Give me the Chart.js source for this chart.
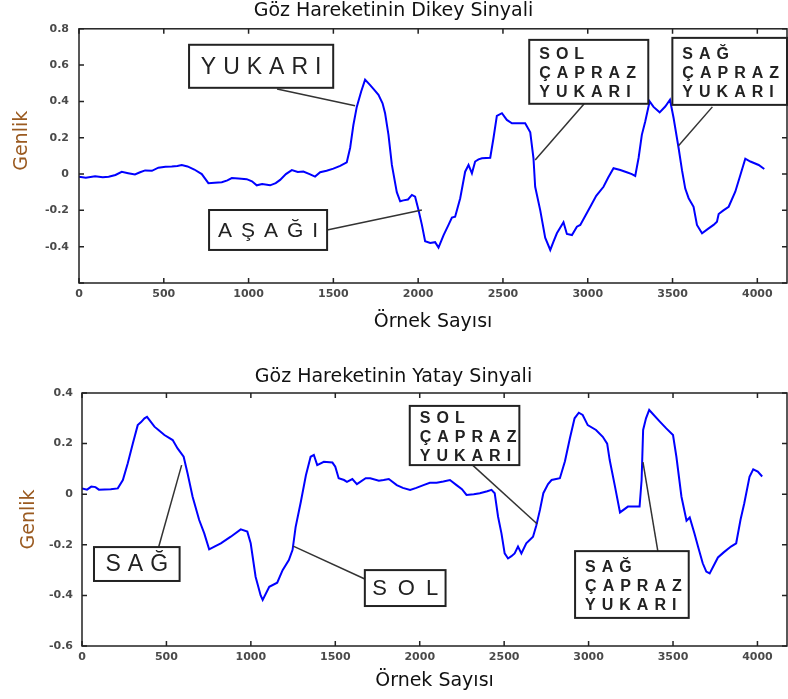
<!DOCTYPE html>
<html>
<head>
<meta charset="utf-8">
<script src="https://cdn.jsdelivr.net/npm/chart.js@4.4.0/dist/chart.umd.min.js"></script>
<style>
  html, body { margin: 0; padding: 0; background: #fff; }
  .panel { position: absolute; left: 0; width: 788px; }
  #top { top: 0; height: 340px; }
  #bottom { top: 360px; height: 339px; }
</style>
</head>
<body>
<div class="panel" id="top"><canvas id="dikey"></canvas></div>
<div class="panel" id="bottom"><canvas id="yatay"></canvas></div>
<script>
// Dikey (vertical) signal, sample index -> amplitude
const dikeySamples = [0, 40, 95, 140, 175, 215, 252, 290, 330, 360, 390, 430, 468, 510, 547, 580, 606, 640, 680, 724,
  763, 800, 842, 875, 901, 940, 989, 1020, 1048, 1080, 1127, 1160, 1186, 1220, 1255, 1290, 1323, 1360, 1392, 1422,
  1460, 1500, 1540, 1579, 1599, 1618, 1638, 1664, 1687, 1717, 1740, 1766, 1790, 1805, 1825, 1845, 1874, 1894, 1913, 1940,
  1963, 1982, 2002, 2022, 2041, 2071, 2100, 2120, 2150, 2179, 2199, 2218, 2248, 2277, 2297, 2317, 2336, 2356, 2376, 2425,
  2444, 2464, 2494, 2523, 2553, 2600, 2631, 2661, 2680, 2690, 2720, 2749, 2779, 2798, 2818, 2857, 2877, 2907, 2936, 2956,
  3015, 3050, 3093, 3120, 3152, 3192, 3230, 3260, 3280, 3300, 3319, 3339, 3365, 3388, 3424, 3457, 3485, 3506, 3536, 3556,
  3575, 3595, 3624, 3644, 3674, 3713, 3742, 3762, 3772, 3800, 3831, 3870, 3900, 3929, 3959, 4008, 4041];
const dikeyValues = [-0.015, -0.02, -0.012, -0.018, -0.015, -0.005, 0.012, 0.005, -0.002, 0.01, 0.02, 0.018, 0.035, 0.04, 0.042, 0.045, 0.05, 0.042, 0.025, 0.0,
  -0.05, -0.048, -0.045, -0.035, -0.022, -0.025, -0.028, -0.04, -0.062, -0.055, -0.062, -0.05, -0.032, 0.0, 0.022, 0.012, 0.014, 0.0, -0.014, 0.01,
  0.018, 0.03, 0.045, 0.065, 0.145, 0.27, 0.37, 0.455, 0.52, 0.49, 0.465, 0.436, 0.39, 0.335, 0.216, 0.05, -0.1, -0.15, -0.145, -0.14,
  -0.115, -0.125, -0.198, -0.28, -0.37, -0.38, -0.375, -0.405, -0.336, -0.28, -0.24, -0.235, -0.133, 0.013, 0.05, 0.004, 0.069, 0.081, 0.087, 0.09,
  0.197, 0.32, 0.335, 0.298, 0.28, 0.28, 0.28, 0.23, 0.087, -0.07, -0.2, -0.35, -0.418, -0.372, -0.326, -0.265, -0.33, -0.336, -0.29, -0.28,
  -0.18, -0.12, -0.07, -0.02, 0.032, 0.022, 0.01, 0.0, -0.01, 0.09, 0.216, 0.289, 0.4, 0.37, 0.34, 0.372, 0.409, 0.31, 0.142, 0.02,
  -0.08, -0.133, -0.18, -0.28, -0.326, -0.299, -0.28, -0.262, -0.22, -0.2, -0.18, -0.097, -0.005, 0.085, 0.069, 0.05, 0.028];

// Yatay (horizontal) signal
const yataySamples = [0, 30, 55, 80, 100, 134, 170, 212, 242, 271, 301, 330, 350, 370, 385, 429, 460, 488, 537, 566,
  602, 625, 655, 694, 724, 753, 790, 822, 881, 940, 979, 999, 1028, 1058, 1070, 1109, 1156, 1188, 1225, 1247,
  1265, 1296, 1326, 1354, 1373, 1393, 1432, 1483, 1500, 1520, 1552, 1569, 1601, 1628, 1680, 1707, 1758, 1786, 1817, 1864,
  1900, 1943, 1980, 2022, 2060, 2100, 2140, 2179, 2218, 2250, 2277, 2320, 2356, 2400, 2425, 2444, 2464, 2484, 2503, 2523,
  2543, 2562, 2582, 2602, 2631, 2671, 2690, 2712, 2732, 2760, 2781, 2830, 2860, 2889, 2917, 2942, 2965, 2995, 3044, 3084,
  3110, 3125, 3155, 3186, 3233, 3302, 3314, 3323, 3340, 3359, 3422, 3460, 3500, 3520, 3550, 3580, 3599, 3627, 3648, 3676,
  3697, 3717, 3766, 3800, 3843, 3874, 3900, 3922, 3953, 3975, 4002, 4028];
const yatayValues = [0.023, 0.018, 0.03, 0.028, 0.018, 0.019, 0.02, 0.023, 0.056, 0.122, 0.2, 0.273, 0.285, 0.3, 0.306, 0.267, 0.25, 0.234, 0.214, 0.181,
  0.148, 0.083, -0.01, -0.102, -0.155, -0.218, -0.205, -0.194, -0.168, -0.139, -0.148, -0.194, -0.326, -0.4, -0.418, -0.366, -0.35, -0.3, -0.26, -0.22,
  -0.13, -0.03, 0.075, 0.148, 0.155, 0.115, 0.128, 0.125, 0.109, 0.063, 0.056, 0.049, 0.06, 0.04, 0.063, 0.063, 0.053, 0.056, 0.06, 0.036,
  0.025, 0.017, 0.025, 0.036, 0.045, 0.045, 0.05, 0.056, 0.036, 0.02, -0.003, 0.0, 0.004, 0.012, 0.017, 0.004, -0.089, -0.155, -0.234, -0.254,
  -0.245, -0.234, -0.207, -0.234, -0.194, -0.168, -0.125, -0.062, 0.004, 0.04, 0.056, 0.063, 0.13, 0.22, 0.3, 0.322, 0.313, 0.273, 0.254, 0.227,
  0.2, 0.135, 0.035, -0.072, -0.049, -0.049, 0.056, 0.254, 0.3, 0.333, 0.287, 0.26, 0.234, 0.148, -0.01, -0.105, -0.092, -0.155, -0.207, -0.273,
  -0.306, -0.313, -0.25, -0.23, -0.207, -0.194, -0.1, -0.036, 0.069, 0.098, 0.089, 0.07];

// axis ranges and ticks
const xMax = 4175;
const xTicks = [0, 500, 1000, 1500, 2000, 2500, 3000, 3500, 4000];
const dikeyRange = [-0.6, 0.8];
const yatayRange = [-0.6, 0.4];

// callouts: box [x1, y1, x2, y2], leader from -> to, all in data units
const dikeyNotes = [
  { lines: ["YUKARI"], size: 23, bold: false, gap: 7, box: [649, 0.712, 1499, 0.475], from: [1168, 0.469], to: [1628, 0.376] },
  { lines: ["AŞAĞI"], size: 21, bold: false, gap: 9, box: [767, -0.198, 1463, -0.418], from: [1463, -0.308], to: [2022, -0.198] },
  { lines: ["SOL", "ÇAPRAZ", "YUKARI"], size: 16, bold: true, gap: 6, box: [2655, 0.739, 3357, 0.387], from: [2979, 0.387], to: [2690, 0.078] },
  { lines: ["SAĞ", "ÇAPRAZ", "YUKARI"], size: 16, bold: true, gap: 6, box: [3499, 0.75, 4175, 0.381], from: [3735, 0.37], to: [3534, 0.155] },
];
const yatayNotes = [
  { lines: ["SAĞ"], size: 23, bold: false, gap: 7, box: [71, -0.209, 578, -0.343], from: [454, -0.209], to: [590, 0.115] },
  { lines: ["SOL"], size: 22, bold: false, gap: 11, box: [1675, -0.3, 2153, -0.442], from: [1675, -0.335], to: [1251, -0.205] },
  { lines: ["SOL", "ÇAPRAZ", "YUKARI"], size: 16, bold: true, gap: 6, box: [1941, 0.349, 2590, 0.115], from: [2313, 0.115], to: [2696, -0.118] },
  { lines: ["SAĞ", "ÇAPRAZ", "YUKARI"], size: 16, bold: true, gap: 6, box: [2920, -0.225, 3593, -0.489], from: [3410, -0.225], to: [3322, 0.127] },
];

function spacedWidth(ctx, text, gap) {
  let w = 0;
  for (const ch of text) w += ctx.measureText(ch).width;
  return w + gap * (text.length - 1);
}
function spacedText(ctx, text, x0, y0, gap) {
  let cx = x0;
  for (const ch of text) {
    ctx.fillText(ch, cx, y0);
    cx += ctx.measureText(ch).width + gap;
  }
}

const frame = {
  id: "frame",
  afterDatasetsDraw(chart) {
    const { ctx, chartArea: a, scales: { x, y } } = chart;
    ctx.save();
    ctx.strokeStyle = "#222";
    ctx.lineWidth = 1.5;
    ctx.strokeRect(a.left, a.top, a.right - a.left, a.bottom - a.top);
    ctx.beginPath();
    x.ticks.forEach((t) => {
      const px = x.getPixelForValue(t.value);
      ctx.moveTo(px, a.bottom); ctx.lineTo(px, a.bottom - 5);
      ctx.moveTo(px, a.top); ctx.lineTo(px, a.top + 5);
    });
    y.ticks.forEach((t) => {
      const py = y.getPixelForValue(t.value);
      ctx.moveTo(a.left, py); ctx.lineTo(a.left + 5, py);
      ctx.moveTo(a.right, py); ctx.lineTo(a.right - 5, py);
    });
    ctx.stroke();
    ctx.restore();
  },
};

const callouts = {
  id: "callouts",
  afterDatasetsDraw(chart, args, opts) {
    const { ctx, scales: { x, y } } = chart;
    ctx.save();
    (opts.items || []).forEach((n) => {
      const x1 = x.getPixelForValue(n.box[0]), y1 = y.getPixelForValue(n.box[1]);
      const x2 = x.getPixelForValue(n.box[2]), y2 = y.getPixelForValue(n.box[3]);
      ctx.strokeStyle = "#333";
      ctx.lineWidth = 1.5;
      ctx.beginPath();
      ctx.moveTo(x.getPixelForValue(n.from[0]), y.getPixelForValue(n.from[1]));
      ctx.lineTo(x.getPixelForValue(n.to[0]), y.getPixelForValue(n.to[1]));
      ctx.stroke();
      ctx.fillStyle = "#fff";
      ctx.fillRect(x1, y1, x2 - x1, y2 - y1);
      ctx.lineWidth = 2;
      ctx.strokeStyle = "#222";
      ctx.strokeRect(x1, y1, x2 - x1, y2 - y1);
      ctx.fillStyle = "#222";
      ctx.textBaseline = "middle";
      ctx.font = (n.bold ? "bold " : "") + n.size + 'px "Liberation Sans", Arial, sans-serif';
      const cy = (y1 + y2) / 2;
      if (n.lines.length === 1) {
        const w = spacedWidth(ctx, n.lines[0], n.gap);
        spacedText(ctx, n.lines[0], (x1 + x2) / 2 - w / 2, cy + 1, n.gap);
      } else {
        n.lines.forEach((line, i) => {
          spacedText(ctx, line, x1 + 10, cy + 2 + (i - 1) * 19, n.gap);
        });
      }
    });
    ctx.restore();
  },
};

const labelFont = { family: '"DejaVu Sans", sans-serif', size: 11, weight: "bold" };
const textFont = { family: '"DejaVu Sans", sans-serif', size: 19, weight: "normal" };

function makeChart(el, title, samples, values, range, notes, dims) {
  return new Chart(el, {
    type: "line",
    data: {
      datasets: [{
        data: samples.map((s, i) => ({ x: s, y: values[i] })),
        borderColor: "#0000ff",
        borderWidth: 2,
        pointRadius: 0,
        tension: 0,
        fill: false,
      }],
    },
    options: {
      responsive: true,
      maintainAspectRatio: false,
      animation: false,
      layout: { padding: { left: 0, right: 1, top: 0, bottom: 0 } },
      plugins: {
        legend: { display: false },
        tooltip: { enabled: false },
        title: {
          display: true,
          text: title,
          color: "#111",
          font: textFont,
          padding: dims.titlePad,
        },
        callouts: { items: notes },
      },
      scales: {
        x: {
          type: "linear",
          min: 0,
          max: xMax,
          grid: { display: false, drawTicks: false },
          border: { display: false },
          afterBuildTicks(scale) { scale.ticks = xTicks.map((v) => ({ value: v })); },
          ticks: {
            padding: 5,
            maxRotation: 0,
            autoSkip: false,
            color: "#4a4a4a",
            font: labelFont,
            callback: (v) => String(v),
          },
          title: {
            display: true,
            text: "Örnek Sayısı",
            color: "#111",
            font: textFont,
            padding: { top: 0, bottom: 6.6 },
          },
          afterFit(scale) { scale.height = dims.xHeight; },
        },
        y: {
          min: range[0],
          max: range[1],
          grid: { display: false, drawTicks: false },
          border: { display: false },
          ticks: {
            stepSize: 0.2,
            padding: dims.yTickPad,
            color: "#4a4a4a",
            font: labelFont,
            callback: (v) => (dims.hideMin && Math.abs(v - range[0]) < 1e-6 ? "" : String(+v.toFixed(1))),
          },
          title: {
            display: true,
            text: dims.yTitle,
            color: "#9a5a20",
            font: textFont,
            padding: { top: dims.yTitlePad, bottom: 0 },
          },
          afterFit(scale) { scale.width = dims.yWidth; },
        },
      },
    },
    plugins: [frame, callouts],
  });
}

makeChart(document.getElementById("dikey"), "Göz Hareketinin Dikey Sinyali", dikeySamples, dikeyValues, dikeyRange, dikeyNotes,
  { titlePad: { top: 0, bottom: 6 }, xHeight: 57, yWidth: 79, yTickPad: 10, yTitlePad: 10.6, hideMin: true, yTitle: "     Genlik" });
makeChart(document.getElementById("yatay"), "Göz Hareketinin Yatay Sinyali", yataySamples, yatayValues, yatayRange, yatayNotes,
  { titlePad: { top: 6, bottom: 4.2 }, xHeight: 53, yWidth: 82, yTickPad: 9, yTitlePad: 18, hideMin: false, yTitle: "Genlik" });
</script>
</body>
</html>
